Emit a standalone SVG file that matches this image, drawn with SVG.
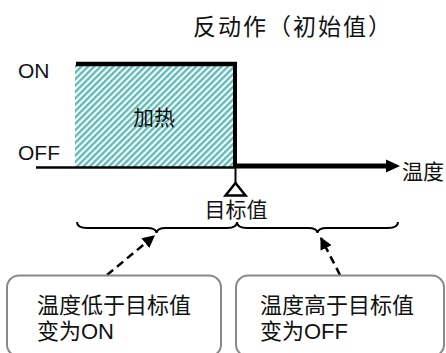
<svg xmlns="http://www.w3.org/2000/svg" width="446" height="353" viewBox="0 0 446 353">
<style>
.cjk{font-family:"Noto Sans CJK SC","Noto Sans",sans-serif;fill:#111}
.lat{font-family:"Liberation Sans",Arial,sans-serif;fill:#111}
.bt{font-family:"Liberation Sans","Noto Sans CJK SC",sans-serif;fill:#111;font-size:22px}
.box{fill:#fff;stroke:#888;stroke-width:2}
.dash{stroke:#000;stroke-width:2.5;stroke-dasharray:8 5;fill:none}
.brace{stroke:#000;stroke-width:2;fill:none}
</style>
<defs>
<pattern id="hatch" width="4.5" height="4.5" patternUnits="userSpaceOnUse" patternTransform="rotate(45)">
<rect width="4.5" height="4.5" fill="#ffffff"/>
<rect width="2.4" height="4.5" fill="#5dbcb8"/>
</pattern>
<marker id="ah" viewBox="0 0 10 10" refX="9" refY="5" markerWidth="5" markerHeight="5" orient="auto" markerUnits="strokeWidth">
<path d="M0,0 L10,5 L0,10 z" fill="#000"/>
</marker>
</defs>

<text class="cjk" x="193" y="35" font-size="23" letter-spacing="2">反动作（初始值）</text>

<g id="heating">
<rect x="75" y="64" width="158" height="103" fill="url(#hatch)"/>
<text class="cjk" x="154" y="125" font-size="21" text-anchor="middle">加热</text>
</g>

<g id="labels">
<text class="lat" x="18" y="78" font-size="21">ON</text>
<text class="lat" x="18" y="160" font-size="21">OFF</text>
<text class="cjk" x="402" y="179" font-size="21">温度</text>
<text class="cjk" x="236" y="217" font-size="21" text-anchor="middle">目标值</text>
</g>

<g id="connectors">
<line x1="36" y1="167.5" x2="235" y2="167.5" stroke="#000" stroke-width="2.5"/>
<line x1="76" y1="64" x2="237" y2="64" stroke="#000" stroke-width="4.5"/>
<line x1="235" y1="62" x2="235" y2="168" stroke="#000" stroke-width="4"/>
<line x1="235" y1="166" x2="388" y2="166" stroke="#000" stroke-width="5"/>
<path d="M386,159.5 L400,166 L386,172.5 z" fill="#000"/>
<line x1="235.5" y1="168" x2="235.5" y2="183" stroke="#000" stroke-width="2"/>
<path d="M235.5,183 L245.5,195.5 L225.5,195.5 z" fill="#fff" stroke="#000" stroke-width="2.5" stroke-linejoin="miter"/>
<path class="brace" d="M77,222 Q77,228 87,228 L147,228 Q156,228 156.5,233 Q157,228 166,228 L227,228 Q237,228 237,222"/>
<path class="brace" d="M237,222 Q237,228 247,228 L308,228 Q317,228 317.5,233 Q318,228 327,228 L388,228 Q398,228 398,222"/>
<line class="dash" x1="107" y1="275" x2="154" y2="236" marker-end="url(#ah)"/>
<line class="dash" x1="340" y1="275" x2="321" y2="238" marker-end="url(#ah)"/>
</g>

<g id="box-left">
<rect class="box" x="7" y="275.5" width="214" height="81" rx="12"/>
<text class="bt"><tspan x="37" y="313">温度低于目标值</tspan><tspan x="37" y="339">变为ON</tspan></text>
</g>

<g id="box-right">
<rect class="box" x="236" y="275.5" width="208" height="81" rx="12"/>
<text class="bt"><tspan x="260" y="313">温度高于目标值</tspan><tspan x="260" y="339">变为OFF</tspan></text>
</g>
</svg>
